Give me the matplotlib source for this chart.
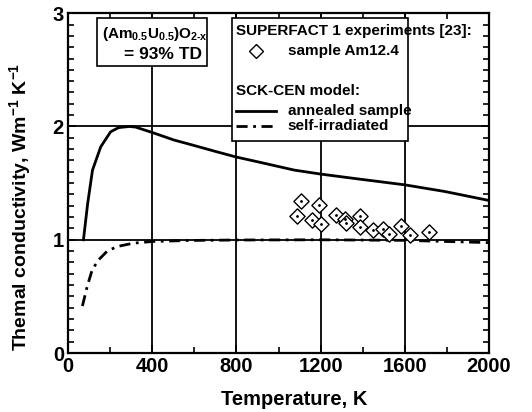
import numpy as np
import matplotlib
matplotlib.use("Agg")
import matplotlib.pyplot as plt
from matplotlib.ticker import MultipleLocator
from matplotlib.lines import Line2D
from matplotlib.patches import Rectangle

plt.rcParams['font.family'] = ['Liberation Sans', 'DejaVu Sans']
plt.rcParams['font.weight'] = 'bold'
plt.rcParams['mathtext.default'] = 'regular'

# SCK-CEN model, annealed sample
t_annealed = [73, 93, 116, 155, 202, 240, 290, 320, 403, 504, 574, 700, 800,
              885, 1075, 1200, 1387, 1600, 1791, 2000]
k_annealed = [1.0, 1.32, 1.615, 1.82, 1.953, 1.99, 2.0, 1.995, 1.945, 1.88,
              1.845, 1.78, 1.73, 1.695, 1.615, 1.58, 1.535, 1.485, 1.426, 1.347]

# SCK-CEN model, self-irradiated
t_irr = [68, 91, 115, 146, 185, 232, 310, 400, 574, 800, 1200, 1600, 1800, 2000]
k_irr = [0.415, 0.59, 0.737, 0.825, 0.898, 0.94, 0.97, 0.985, 0.994, 0.998,
         1.0, 0.995, 0.985, 0.975]

# SUPERFACT 1, sample Am12.4
t_exp = [1106, 1192, 1090, 1161, 1200, 1271, 1318, 1322, 1385, 1385,
         1448, 1498, 1526, 1584, 1627, 1714]
k_exp = [1.338, 1.309, 1.206, 1.171, 1.135, 1.221, 1.185, 1.150, 1.209, 1.112,
         1.088, 1.091, 1.053, 1.126, 1.038, 1.068]

fig = plt.figure(figsize=(5.32, 4.12), dpi=100)
ax = fig.add_axes([0.128, 0.143, 0.791, 0.825])

for x in [400, 800, 1200, 1600]:
    ax.axvline(x, color='black', lw=1.3, zorder=1)
for y in [1, 2]:
    ax.axhline(y, color='black', lw=1.3, zorder=1)

ax.plot(t_annealed, k_annealed, color='black', lw=2, zorder=3)
ax.plot(t_irr, k_irr, color='black', lw=2, linestyle=(0, (4, 2, 1, 2)), zorder=3)
ax.scatter(t_exp, k_exp, marker='D', s=60, facecolors='white',
           edgecolors='black', linewidths=1.0, zorder=4)
ax.scatter(t_exp, k_exp, marker='o', s=1, color='black', zorder=5)

ax.set_xlim(0, 2000)
ax.set_ylim(0, 3)
ax.xaxis.set_major_locator(MultipleLocator(400))
ax.xaxis.set_minor_locator(MultipleLocator(200))
ax.yaxis.set_major_locator(MultipleLocator(1))
ax.yaxis.set_minor_locator(MultipleLocator(0.1))
ax.tick_params(which='both', direction='in', top=True, right=True,
               labelsize=14.5, width=1.2)
ax.tick_params(which='major', length=6, pad=3)
ax.tick_params(which='minor', length=4)
for s in ax.spines.values():
    s.set_linewidth(1.6)

ax.set_xlabel('Temperature, K', fontsize=14.5, fontweight='bold', va='top')
ax.xaxis.set_label_coords(0.537, -0.108)
ax.set_ylabel('Themal conductivity, Wm$^{-1}$ K$^{-1}$', fontsize=14,
              fontweight='bold')
ax.yaxis.set_label_coords(-0.083, 0.43)

# composition box
ax.add_patch(Rectangle((0.068, 0.844), 0.262, 0.141, transform=ax.transAxes,
                       facecolor='white', edgecolor='black', lw=1.2, zorder=5))
ax.text(0.331, 0.940, '(Am$_{0.5}$U$_{0.5}$)O$_{2\u2010x}$', transform=ax.transAxes,
        ha='right', va='center', fontsize=11, fontweight='bold', zorder=6)
ax.text(0.318, 0.878, '= 93% TD', transform=ax.transAxes,
        ha='right', va='center', fontsize=12.5, fontweight='bold', zorder=6)

# legend box
ax.add_patch(Rectangle((0.389, 0.623), 0.418, 0.362, transform=ax.transAxes,
                       facecolor='white', edgecolor='black', lw=1.2, zorder=5))
ax.text(0.398, 0.948, 'SUPERFACT 1 experiments [23]:', transform=ax.transAxes,
        ha='left', va='center', fontsize=11, fontweight='bold', zorder=6)
ax.add_line(Line2D([0.446], [0.888], transform=ax.transAxes, marker='D',
                   markersize=7.5, markerfacecolor='white', markeredgecolor='black',
                   markeredgewidth=1.0, zorder=6))
ax.text(0.522, 0.888, 'sample Am12.4', transform=ax.transAxes,
        ha='left', va='center', fontsize=11, fontweight='bold', zorder=6)
ax.text(0.398, 0.770, 'SCK-CEN model:', transform=ax.transAxes,
        ha='left', va='center', fontsize=11, fontweight='bold', zorder=6)
ax.add_line(Line2D([0.398, 0.495], [0.712, 0.712], transform=ax.transAxes,
                   color='black', lw=2, zorder=6))
ax.text(0.522, 0.712, 'annealed sample', transform=ax.transAxes,
        ha='left', va='center', fontsize=11, fontweight='bold', zorder=6)
ax.add_line(Line2D([0.398, 0.495], [0.668, 0.668], transform=ax.transAxes,
                   color='black', lw=2, linestyle=(0, (4, 2, 1, 2)), zorder=6))
ax.text(0.522, 0.668, 'self-irradiated', transform=ax.transAxes,
        ha='left', va='center', fontsize=11, fontweight='bold', zorder=6)

fig.savefig('out.png', dpi=100)
